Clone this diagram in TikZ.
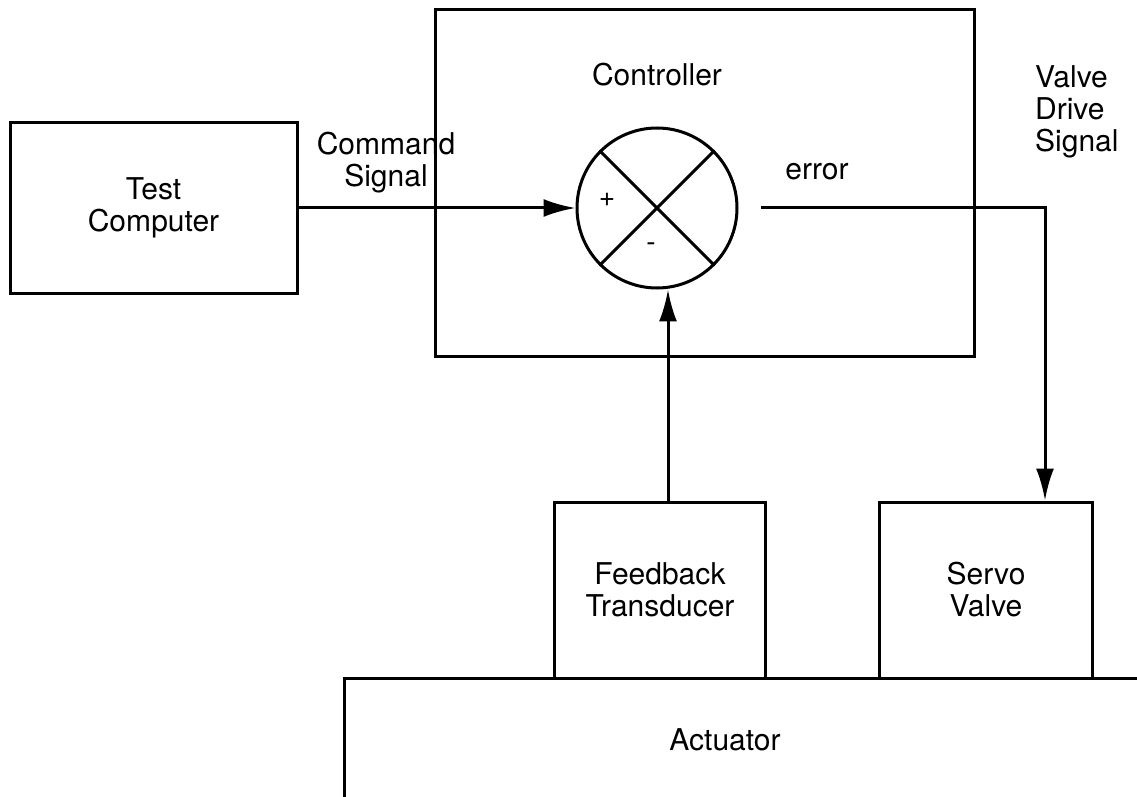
\documentclass[tikz,border=0pt]{standalone}
\usepackage{fontspec}
\setmainfont{TeX Gyre Heros}
\usetikzlibrary{arrows.meta, positioning}

\begin{document}
\begin{tikzpicture}[
    x=0.5pt, y=-0.5pt,
    line width=1.5pt,
    every node/.style={font=\fontsize{15}{16}\selectfont, align=center},
    block/.style={draw, rectangle, inner sep=0pt},
    junction/.style={draw, circle, minimum size=80pt, inner sep=0pt},
    sign/.style={font=\fontsize{14}{14}\selectfont, inner sep=0pt},
    arr/.style={-{Latex[length=16pt, width=9pt]}}
]
\useasboundingbox (0,0) rectangle (1137,797);

% --- Bloques ---
\node[block, minimum width=143.5pt, minimum height=85.5pt] (comp) at (153.5,208) {Test\\Computer};
\node[block, minimum width=269.5pt, minimum height=173pt] (ctrl) at (704.5,183) {};
\node[block, minimum width=105.5pt, minimum height=88pt] (fb) at (660,590) {Feedback\\Transducer};
\node[block, minimum width=106.5pt, minimum height=88pt] (sv) at (986,590) {Servo\\Valve};

% --- Sumador ---
\node[junction] (sum) at (657,208) {};
\draw (sum.north west) -- (sum.south east);
\draw (sum.north east) -- (sum.south west);
\node[sign] (plus) at (607,200) {+};
\node[sign] (minus) at (651,247) {-};

% --- Actuador (abierto abajo y a la derecha) ---
\draw (344,797) -- (344,678) -- (1137,678);
\node (act) at (725,740) {Actuator};

% --- Etiquetas ---
\node (ctrllabel) at (657,75) {Controller};
\node (cmd) at (386,163) {Command\\Signal};
\node (err) at (817,172) {error};
\node[align=left, anchor=west] (vds) at (1027,112) {Valve\\Drive\\Signal};

% --- Conexiones ---
\coordinate (drv) at (1045,208);
\draw[arr] (comp.east) -- (sum.west);
\draw[arr] ([xshift=11pt]sum.east) -- (drv) -- (drv |- sv.north);
\draw[arr] ([xshift=4pt]fb.north) -- ([xshift=4pt]fb.north |- sum.south);

\end{tikzpicture}
\end{document}
